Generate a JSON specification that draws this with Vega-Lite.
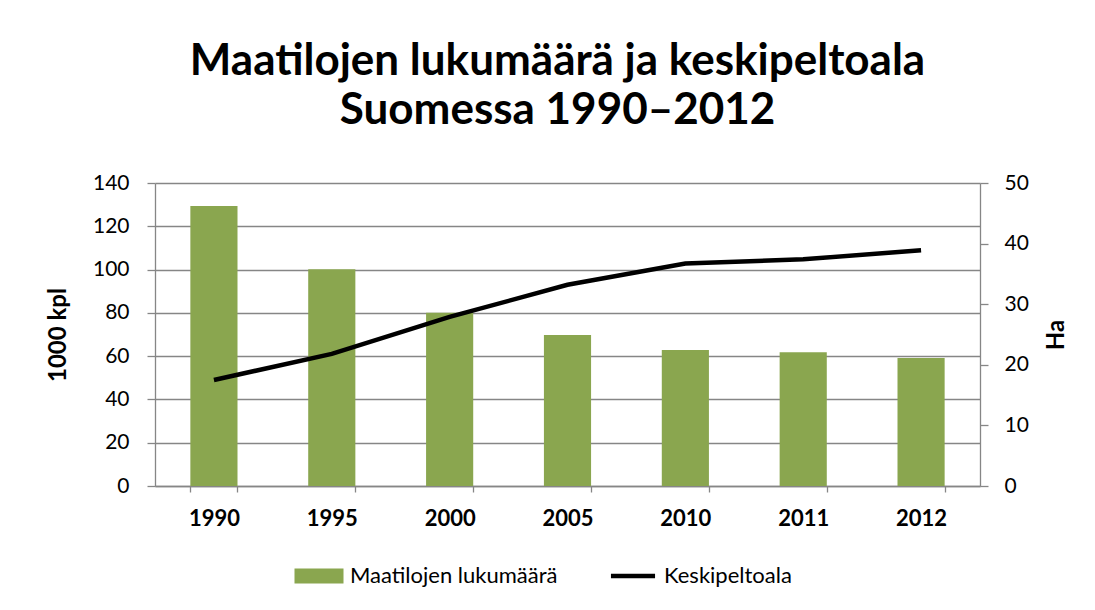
{
  "$schema": "https://vega.github.io/schema/vega-lite/v6.json",
  "width": 825,
  "height": 303,
  "autosize": {"type": "none"},
  "padding": {"left": 155, "top": 183, "right": 115, "bottom": 124},
  "background": "white",
  "title": {
    "text": ["Maatilojen lukumäärä ja keskipeltoala", "Suomessa 1990–2012"],
    "font": "Lato",
    "fontSize": 44,
    "fontWeight": "bold",
    "color": "black",
    "anchor": "middle",
    "frame": "group",
    "dx": -10,
    "lineHeight": 49,
    "offset": 39
  },
  "data": {
    "values": [
      {"year": "1990", "farms": 129.4, "ha": 17.5},
      {"year": "1995", "farms": 100.1, "ha": 21.8},
      {"year": "2000", "farms": 80.0, "ha": 27.9},
      {"year": "2005", "farms": 69.8, "ha": 33.2},
      {"year": "2010", "farms": 62.8, "ha": 36.7},
      {"year": "2011", "farms": 61.8, "ha": 37.4},
      {"year": "2012", "farms": 59.1, "ha": 38.9}
    ]
  },
  "encoding": {
    "x": {
      "field": "year",
      "type": "ordinal",
      "scale": {"paddingInner": 0.6, "paddingOuter": 0.3},
      "axis": {
        "title": null,
        "labelAngle": 0,
        "labelFontWeight": "bold",
        "labelFontSize": 22,
        "tickBand": "extent",
        "tickSize": 6,
        "labelPadding": 16,
        "grid": false
      }
    }
  },
  "layer": [
    {
      "mark": {"type": "bar"},
      "encoding": {
        "y": {
          "field": "farms",
          "type": "quantitative",
          "scale": {"domain": [0, 140], "nice": false},
          "axis": {
            "title": "1000 kpl",
            "values": [0, 20, 40, 60, 80, 100, 120, 140],
            "tickSize": 8,
            "labelPadding": 18,
            "grid": true,
            "titlePadding": 22
          }
        },
        "color": {
          "datum": "Maatilojen lukumäärä",
          "scale": {"domain": ["Maatilojen lukumäärä", "Keskipeltoala"], "range": ["#8AA64F", "black"]},
          "legend": {
            "orient": "none",
            "legendX": 153,
            "legendY": 382,
            "padding": 0,
            "direction": "horizontal",
            "title": null,
            "labelFont": "Lato",
            "labelFontSize": 22,
            "labelColor": "black",
            "labelLimit": 500,
            "symbolSize": 2401,
            "labelOffset": 20,
            "columnPadding": 43,
            "encode": {
              "symbols": {
                "update": {
                  "shape": {"signal": "datum.value === 'Keskipeltoala' ? 'M-0.9,0H0.9' : 'M-1,-0.31H1V0.31H-1Z'"},
                  "fill": {"signal": "datum.value === 'Keskipeltoala' ? 'transparent' : '#8AA64F'"},
                  "stroke": {"signal": "datum.value === 'Keskipeltoala' ? 'black' : 'transparent'"},
                  "strokeWidth": {"signal": "datum.value === 'Keskipeltoala' ? 4.5 : 0"},
                  "opacity": {"value": 1},
                  "fillOpacity": {"value": 1}
                }
              }
            }
          }
        }
      }
    },
    {
      "mark": {"type": "line", "strokeWidth": 4.5},
      "encoding": {
        "y": {
          "field": "ha",
          "type": "quantitative",
          "scale": {"domain": [0, 50], "nice": false},
          "axis": {
            "orient": "right",
            "title": "Ha",
            "titleAngle": 270,
            "values": [0, 10, 20, 30, 40, 50],
            "tickSize": 8,
            "labelPadding": 16,
            "grid": false,
            "titlePadding": 40
          }
        },
        "color": {"datum": "Keskipeltoala"}
      }
    }
  ],
  "resolve": {"scale": {"y": "independent"}},
  "config": {
    "view": {"stroke": null},
    "axis": {
      "domainColor": "#868686",
      "tickColor": "#868686",
      "gridColor": "#868686",
      "domainWidth": 1.3,
      "tickWidth": 1.3,
      "gridWidth": 1.3,
      "labelFont": "Lato",
      "labelFontSize": 21,
      "labelColor": "black",
      "titleFont": "Lato",
      "titleFontSize": 24,
      "titleColor": "black",
      "titleFontWeight": "bold"
    }
  }
}
